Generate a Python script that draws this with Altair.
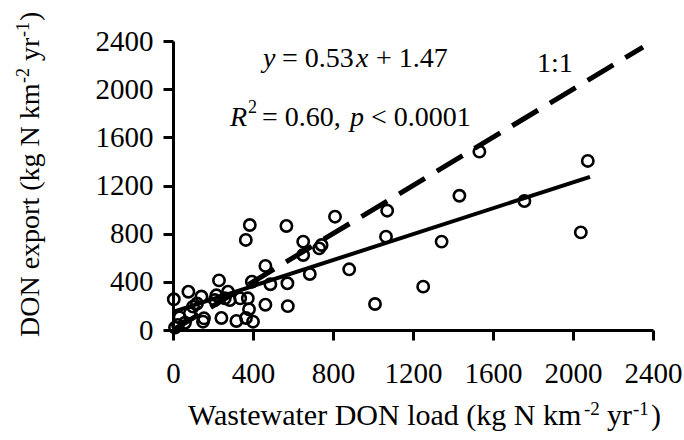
import altair as alt
import pandas as pd

# ---- data ----
load_x = [4, 77, 142, 230, 275, 336, 374, 394, 462, 364, 384, 567, 651, 651,
          572, 487, 462, 574, 684, 731, 743, 810, 881, 1010, 1071, 1065, 1251,
          1343, 1432, 1532, 1757, 2039, 2074,
          33, 25, 10, 84, 100, 155, 150, 242, 317, 365, 380, 400, 209, 284, 217, 259, 60, 120]
export_y = [255, 318, 278, 412, 318, 263, 263, 401, 532, 748, 872, 864, 734, 623,
            388, 380, 210, 198, 465, 678, 706, 941, 504, 216, 991, 775, 360,
            734, 1115, 1481, 1071, 811, 1404,
            105, 42, 20, 139, 194, 97, 69, 100, 75, 100, 172, 69, 249, 249, 288, 263, 60, 220]

fit_x = [0, 2085]
fit_y = [150, 1272]
one_x = [0, 2350]
one_y = [0, 2350]

ticks = [0, 400, 800, 1200, 1600, 2000, 2400]

eq_parts = ["y", "= 0.53", "x", "+ 1.47"]
r2_parts = ["R", "2", "= 0.60,", "p", "< 0.0001"]
one_label = "1:1"
xt_parts = ["Wastewater DON load (kg N km", "-2", "yr", "-1", ")"]
yt_parts = ["DON export (kg N km", "-2", "yr", "-1", ")"]

FONT = "Liberation Serif"
L, T = 173, 41  # plot origin in page pixels

pts = pd.DataFrame({"x": load_x, "y": export_y})
fit = pd.DataFrame({"x": fit_x, "y": fit_y})
one = pd.DataFrame({"x": one_x, "y": one_y})

xs = alt.Scale(domain=[0, 2400], nice=False, zero=False)
ys = alt.Scale(domain=[0, 2400], nice=False, zero=False)

x_axis = alt.Axis(values=ticks, title=None, labelPadding=19, labelFlush=False,
                  labelOverlap=False, format="d")
y_axis = alt.Axis(values=ticks, title=None, labelPadding=10, labelOverlap=False,
                  format="d")

points = alt.Chart(pts).mark_point(
    shape="circle", filled=False, size=128, strokeWidth=2.6, color="black", opacity=1
).encode(x=alt.X("x:Q", scale=xs, axis=x_axis), y=alt.Y("y:Q", scale=ys, axis=y_axis))

fit_line = alt.Chart(fit).mark_line(color="black", strokeWidth=4).encode(
    x=alt.X("x:Q", scale=xs), y=alt.Y("y:Q", scale=ys))

one_line = alt.Chart(one).mark_line(color="black", strokeWidth=5, strokeDash=[30, 14]).encode(
    x=alt.X("x:Q", scale=xs), y=alt.Y("y:Q", scale=ys))

dummy = pd.DataFrame({"k": [0]})


def label(text, px, py, size, italic=False, angle=0):
    kw = dict(text=text, font=FONT, fontSize=size, color="black", align="left",
              baseline="alphabetic")
    if italic:
        kw["fontStyle"] = "italic"
    if angle:
        kw["angle"] = angle
    return alt.Chart(dummy).mark_text(**kw).encode(
        x=alt.value(px - L), y=alt.value(py - T))


labels = [
    label(eq_parts[0], 263, 67, 28, italic=True),
    label(eq_parts[1], 282, 67, 28),
    label(eq_parts[2], 356, 67, 28, italic=True),
    label(eq_parts[3], 376, 67, 28),
    label(r2_parts[0], 230, 126, 28, italic=True),
    label(r2_parts[1], 248, 113, 18),
    label(r2_parts[2], 262, 126, 28),
    label(r2_parts[3], 350, 126, 28, italic=True),
    label(r2_parts[4], 371, 126, 28),
    label(one_label, 537, 72, 28),
    # x title
    label(xt_parts[0], 188, 425, 30),
    label(xt_parts[1], 584, 415, 19),
    label(xt_parts[2], 607, 425, 30),
    label(xt_parts[3], 633, 415, 19),
    label(xt_parts[4], 651, 425, 30),
    # y title (rotated)
    label(yt_parts[0], 39, 337, 28, angle=270),
    label(yt_parts[1], 29, 83, 18, angle=270),
    label(yt_parts[2], 39, 61, 28, angle=270),
    label(yt_parts[3], 29, 37, 18, angle=270),
    label(yt_parts[4], 39, 21, 28, angle=270),
]

chart = alt.layer(points, one_line, fit_line, *labels).properties(
    width=480, height=289,
    autosize=alt.AutoSizeParams(type="none"),
    padding={"left": L, "top": T, "right": 684 - L - 480, "bottom": 440 - T - 289},
    background="white",
).configure_view(stroke=None).configure_axis(
    domainColor="black", domainWidth=3, tickColor="black", tickWidth=3, tickSize=10,
    labelFont=FONT, labelFontSize=29, labelColor="black", grid=False,
)

chart.save("out.html", embed_options={"renderer": "svg", "actions": False})
